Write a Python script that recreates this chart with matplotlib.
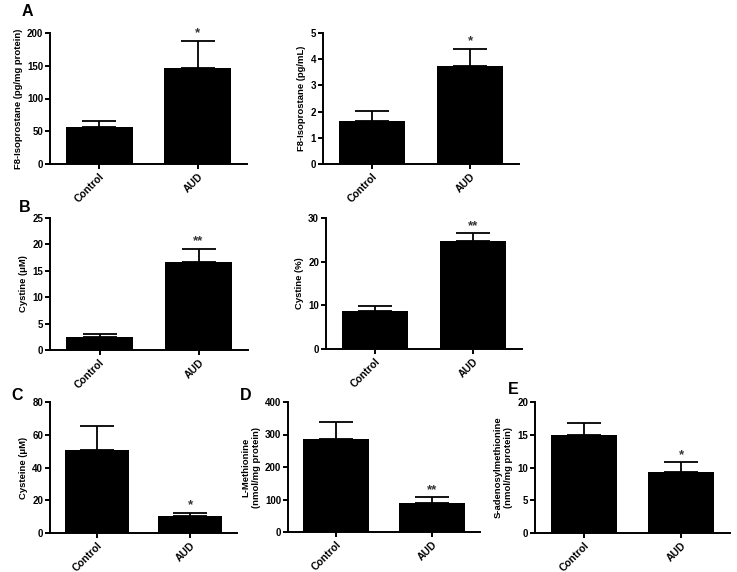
import matplotlib
matplotlib.use('Agg')
import matplotlib.pyplot as plt

plt.rcParams['font.family'] = ['Liberation Sans', 'DejaVu Sans']
plt.rcParams['font.weight'] = 'bold'

groups = ['Control', 'AUD']

f8_tissue = [57, 147]
f8_tissue_err = [9, 41]
f8_plasma = [1.65, 3.73]
f8_plasma_err = [0.38, 0.67]
cystine_um = [2.5, 16.6]
cystine_um_err = [0.5, 2.6]
cystine_pct = [8.7, 24.7]
cystine_pct_err = [1.2, 1.8]
cysteine = [50.5, 10.2]
cysteine_err = [15.0, 2.3]
methionine = [287, 88]
methionine_err = [53, 19]
same = [15.0, 9.3]
same_err = [1.8, 1.5]

W, H = 737, 572
fig = plt.figure(figsize=(W / 100, H / 100), dpi=100)


def panel(left, right, top, bottom, vals, errs, ymax, step, ylabel, stars):
    ax = fig.add_axes([left / W, 1 - bottom / H, (right - left) / W, (bottom - top) / H])
    x = range(len(vals))
    ax.bar(x, vals, width=0.68, color='black')
    # only the upper half of the error bar, like GraphPad
    ax.errorbar(x, vals, yerr=[[0] * len(errs), errs], fmt='none', ecolor='black',
                elinewidth=1.3, capsize=12, capthick=1.3)
    ax.set_xlim(-0.5, 1.5)
    ax.set_ylim(0, ymax)
    ax.set_yticks(range(0, int(ymax) + 1, step))
    ax.set_xticks(list(x))
    ax.set_xticklabels(groups, rotation=45, ha='right', rotation_mode='anchor')
    for s in ['top', 'right']:
        ax.spines[s].set_visible(False)
    for s in ['left', 'bottom']:
        ax.spines[s].set_linewidth(1.4)
    ax.tick_params(width=1.4, length=3.5, labelsize=7, pad=1.5)
    ax.tick_params(axis='x', labelsize=7.5)
    ax.set_ylabel(ylabel, fontsize=6.8, fontweight='bold', labelpad=3)
    for i, st in enumerate(stars):
        if st:
            ax.annotate(st, xy=(i, vals[i] + errs[i]), xytext=(0, 1), textcoords='offset points',
                        ha='center', va='bottom', fontsize=9.5, color='#333333',
                        annotation_clip=False)
    return ax


panel(50, 247, 33, 164, f8_tissue, f8_tissue_err, 200, 50,
      'F8-Isoprostane (pg/mg protein)', ['', '*'])
panel(323, 519, 33, 164, f8_plasma, f8_plasma_err, 5, 1,
      'F8-Isoprostane (pg/mL)', ['', '*'])
panel(50, 248, 218, 350, cystine_um, cystine_um_err, 25, 5,
      'Cystine (\u03bcM)', ['', '**'])
panel(326, 522, 218, 349, cystine_pct, cystine_pct_err, 30, 10,
      'Cystine (%)', ['', '**'])
panel(50, 237, 402, 533, cysteine, cysteine_err, 80, 20,
      'Cysteine (\u03bcM)', ['', '*'])
panel(288, 480, 402, 532, methionine, methionine_err, 400, 100,
      'L-Methionine\n(nmol/mg protein)', ['', '**'])
panel(535, 730, 402, 533, same, same_err, 20, 5,
      'S-adenosylmethionine\n(nmol/mg protein)', ['', '*'])

# panel letters
for letter, px, py in [('A', 27, 12), ('B', 25, 208), ('C', 17, 395),
                       ('D', 246, 395), ('E', 513, 390)]:
    fig.text(px / W, 1 - py / H, letter, fontsize=11.5, fontweight='bold',
             ha='center', va='center')

fig.savefig('out.png', dpi=100)
